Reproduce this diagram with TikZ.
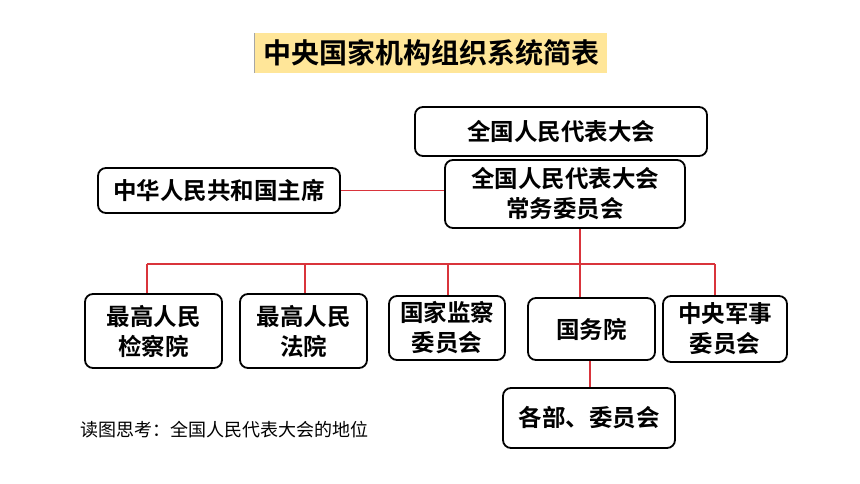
\documentclass[tikz,border=0pt]{standalone}
\usepackage{fontspec}
\newfontfamily\cjk{Noto Sans CJK SC}
\newfontfamily\cjkb{Noto Sans CJK SC Bold}
\definecolor{titlefill}{HTML}{FFE699}
\definecolor{linkred}{HTML}{D9343B}
\begin{document}
\begin{tikzpicture}[x=1pt,y=-1pt,
  orgbox/.style={draw=black,line width=1.8pt,rounded corners=8pt,fill=white,
    align=center,inner sep=0pt,font=\cjkb\fontsize{23.5}{30}\selectfont},
  link/.style={draw=linkred,line width=1.6pt}]
\useasboundingbox (0,0) rectangle (860,484);
% title
\node[fill=titlefill,minimum width=352pt,minimum height=40pt,inner sep=0pt,
  font=\cjkb\fontsize{28}{30}\selectfont] (title) at (431,53) {中央国家机构组织系统简表};
\draw[gray!70,line width=1pt] (title.north west) -- (title.south west);
% boxes
\node[orgbox,minimum width=292pt,minimum height=49pt] (npc) at (561,131.5) {全国人民代表大会};
\node[orgbox,minimum width=240pt,minimum height=68pt] (npcsc) at (565,194) {全国人民代表大会\\常务委员会};
\node[orgbox,minimum width=242pt,minimum height=45pt] (pres) at (219,190.5) {中华人民共和国主席};
\node[orgbox,minimum width=137pt,minimum height=74pt] (proc) at (153.5,331) {最高人民\\检察院};
\node[orgbox,minimum width=127pt,minimum height=74pt] (court) at (303.5,331) {最高人民\\法院};
\node[orgbox,minimum width=116pt,minimum height=64pt] (supv) at (447,328) {国家监察\\委员会};
\node[orgbox,minimum width=127pt,minimum height=62pt] (state) at (591.5,329) {国务院};
\node[orgbox,minimum width=124pt,minimum height=66pt] (cmc) at (725,329) {中央军事\\委员会};
\node[orgbox,minimum width=172pt,minimum height=60pt] (mins) at (589,418) {各部、委员会};
% bus coordinates
\coordinate (b1) at (147,264);
\coordinate (b2) at (305,264);
\coordinate (b3) at (448,264);
\coordinate (b4) at (580,264);
\coordinate (b5) at (715,264);
% connectors
\draw[link] (pres.east) -- (pres.east -| npcsc.west);
\draw[link] (npcsc.south -| b4) -- (state.north -| b4);
\draw[link] (b1) -- (b5);
\draw[link] (b1) -- (proc.north -| b1);
\draw[link] (b2) -- (court.north -| b2);
\draw[link] (b3) -- (supv.north -| b3);
\draw[link] (b5) -- (cmc.north -| b5);
\draw[link] (state.south -| 590,0) -- (mins.north -| 590,0);
% note
\node[anchor=west,inner sep=0pt,font=\cjk\fontsize{18}{20}\selectfont] (note) at (80,430) {读图思考：全国人民代表大会的地位};
\end{tikzpicture}
\end{document}
